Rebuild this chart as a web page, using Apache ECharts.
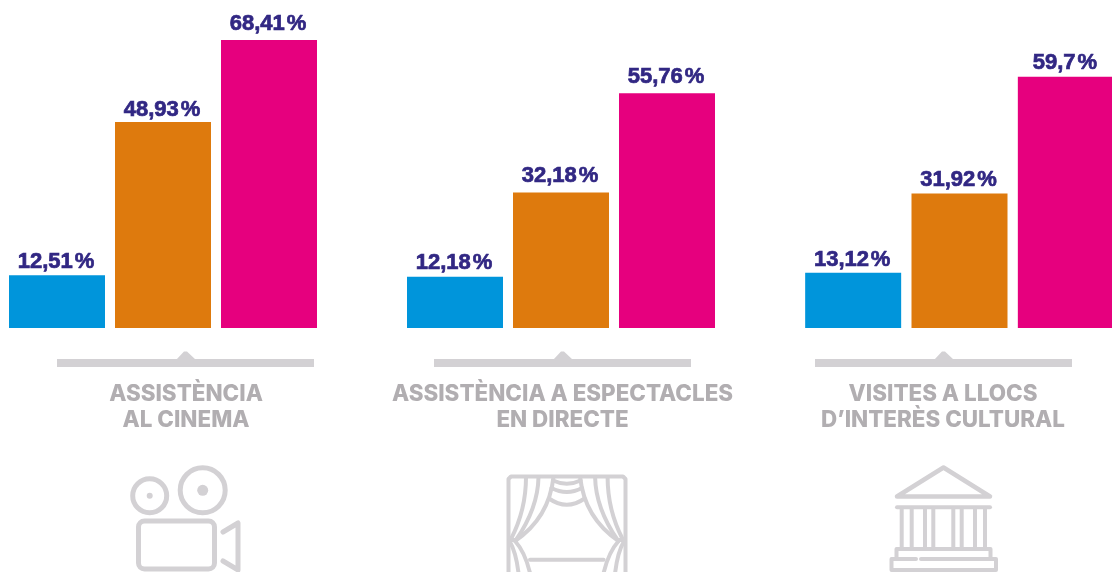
<!DOCTYPE html>
<html lang="ca">
<head>
    <meta charset="utf-8"/>
    <title>Assistència</title>
    <script src="https://cdn.jsdelivr.net/npm/echarts@6/dist/echarts.min.js"></script>
    <style>
        html, body { margin: 0; padding: 0; background: #fff; overflow: hidden; }
        #main { width: 1112px; height: 572px; }
    </style>
</head>
<body>
<div id="main"></div>
<script>
    var groupNames = ['ASSISTÈNCIA\nAL CINEMA', 'ASSISTÈNCIA A ESPECTACLES\nEN DIRECTE', 'VISITES A LLOCS\nD’INTERÈS CULTURAL'];
    var barKeys = ['a', 'b', 'c'];
    var cinema = [12.51, 48.93, 68.41];
    var espectacles = [12.18, 32.18, 55.76];
    var visites = [13.12, 31.92, 59.7];
    var barColors = ['#0095db', '#de7a0d', '#e6007e'];

    var panelLeft = [4, 402, 800];
    var panelWidth = [318, 318, 319];
    // the label gap is not the same on every bar in the original
    var labelGaps = [[2, 1, 5], [3, 6, 5], [2, 3, 3]];
    var bracketLeft = [57, 434, 815];
    var titleCenter = [186, 562.5, 943];
    var grey = '#d3d1d4';

    function line(points, w) {
        return {
            type: 'polyline',
            shape: {points: points},
            style: {stroke: grey, lineWidth: w || 4, fill: null, lineCap: 'round', lineJoin: 'round'}
        };
    }

    function curve(x1, y1, cx, cy, x2, y2) {
        return {
            type: 'bezierCurve',
            shape: {x1: x1, y1: y1, cpx1: cx, cpy1: cy, x2: x2, y2: y2},
            style: {stroke: grey, lineWidth: 4, fill: null, lineCap: 'round'}
        };
    }

    function ring(cx, cy, r, w) {
        return {type: 'circle', shape: {cx: cx, cy: cy, r: r}, style: {stroke: grey, lineWidth: w, fill: null}};
    }

    function dot(cx, cy, r) {
        return {type: 'circle', shape: {cx: cx, cy: cy, r: r}, style: {fill: grey}};
    }

    function box(x, y, w, h, r, lw) {
        return {type: 'rect', shape: {x: x, y: y, width: w, height: h, r: r}, style: {stroke: grey, lineWidth: lw, fill: null}};
    }

    // grey bar with the little arrow on top
    function bracket(x) {
        return [
            {type: 'rect', shape: {x: x, y: 359, width: 257, height: 8}, style: {fill: grey}},
            {type: 'polygon', shape: {points: [[x + 119, 360], [x + 127, 351.5], [x + 130, 351.5], [x + 139, 360]]}, style: {fill: grey}}
        ];
    }

    var camera = [
        ring(149.7, 495.7, 17, 5), dot(149.7, 495.7, 3),
        ring(202.7, 490.3, 22.5, 5), dot(202.7, 490.3, 5.5),
        box(138.5, 521, 76, 48, 6, 5),
        line([[223, 532], [238, 523], [238, 570], [223, 561]], 5)
    ];

    // left half of the curtain, the right half is mirrored
    var curtainMid = 1133.6;
    var curtainHalf = [
        [526, 477, 526, 510, 511, 539],
        [538.5, 477, 538, 508, 516, 540],
        [553.5, 477, 549, 518, 515, 541],
        [515, 541, 525, 552, 530, 573],
        [509.5, 541, 516, 552, 518.5, 573]
    ];
    var curtain = [
        line([[508.5, 580], [508.5, 479], [511, 476.5], [623, 476.5], [625.5, 479], [625.5, 580]]),
        curve(553, 480.5, 566.8, 487, 580.6, 480.5),
        curve(551.5, 488, 566.8, 496, 582, 488),
        curve(549, 498.5, 566.8, 511, 584.6, 498.5),
        line([[530, 559.7], [603.6, 559.7]]),
        line([[509, 540], [516, 540]]),
        line([[617.6, 540], [624.6, 540]])
    ];
    curtainHalf.forEach(function (c) {
        curtain.push(curve(c[0], c[1], c[2], c[3], c[4], c[5]));
        curtain.push(curve(curtainMid - c[0], c[1], curtainMid - c[2], c[3], curtainMid - c[4], c[5]));
    });

    var columnX = [901.7, 911.7, 925, 933.3, 953.3, 961.7, 975, 985];
    var temple = [
        {
            type: 'polygon',
            shape: {points: [[943.5, 467.5], [990, 496.5], [897, 496.5]]},
            style: {stroke: grey, lineWidth: 4.5, fill: null, lineJoin: 'round'}
        },
        line([[897, 507.3], [990, 507.3]]),
        line([[896.5, 558], [896.5, 549], [990.5, 549], [990.5, 558]]),
        line([[916, 559], [891.5, 559], [891.5, 570], [996, 570], [996, 559], [921, 559]])
    ];
    columnX.forEach(function (x) {
        temple.push(line([[x, 508], [x, 548]]));
    });

    var option = {
        animation: false,
        backgroundColor: '#ffffff',
        title: groupNames.map(function (name, i) {
            return {
                text: name,
                left: titleCenter[i],
                top: 381,
                padding: 0,
                textAlign: 'center',
                textStyle: {
                    color: '#b1aeb1',
                    fontFamily: 'Inter',
                    fontWeight: 800,
                    fontSize: 22.4,
                    lineHeight: 26
                }
            };
        }),
        grid: panelLeft.map(function (x, i) {
            return {left: x, width: panelWidth[i], top: 12.25, height: 315.75, outerBoundsMode: 'none'};
        }),
        xAxis: panelLeft.map(function (x, i) {
            return {type: 'category', gridIndex: i, data: barKeys, show: false};
        }),
        yAxis: panelLeft.map(function (x, i) {
            return {type: 'value', gridIndex: i, min: 0, max: 75, show: false};
        }),
        series: [cinema, espectacles, visites].map(function (values, i) {
            return {
                type: 'bar',
                xAxisIndex: i,
                yAxisIndex: i,
                barWidth: 96,
                data: values.map(function (v, j) {
                    return {value: v, itemStyle: {color: barColors[j]}, label: {distance: labelGaps[i][j]}};
                }),
                label: {
                    show: true,
                    position: 'top',
                    offset: [-1, 0],
                    color: '#312783',
                    fontFamily: 'Liberation Sans',
                    fontWeight: 700,
                    fontSize: 22,
                    textBorderColor: '#312783',
                    textBorderWidth: 0.7,
                    formatter: function (p) {
                        return String(p.value).replace('.', ',') + '\u200a%';
                    }
                }
            };
        }),
        graphic: bracket(bracketLeft[0]).concat(bracket(bracketLeft[1]), bracket(bracketLeft[2]), camera, curtain, temple)
    };

    var myChart = echarts.init(document.getElementById('main'));
    myChart.setOption(option);
</script>
</body>
</html>
